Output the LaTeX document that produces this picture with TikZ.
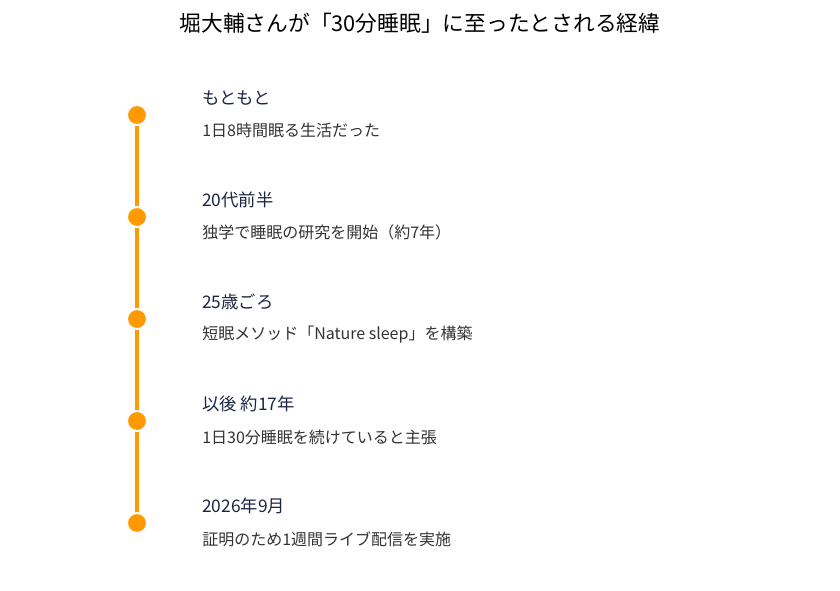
\documentclass[tikz,border=0pt]{standalone}
\usepackage{fontspec}
\setmainfont{Noto Sans CJK JP}
\usepackage{tikz}

\definecolor{dotorange}{HTML}{FF9900}
\definecolor{headnavy}{HTML}{1C2541}
\definecolor{descgray}{HTML}{333333}

\tikzset{
  stepdot/.style={circle, fill=dotorange, draw=white, line width=1.5pt, minimum size=15pt, inner sep=0pt},
  stephead/.style={anchor=west, inner sep=0pt, text=headnavy, font=\fontsize{13pt}{15pt}\selectfont},
  stepdesc/.style={anchor=west, inner sep=0pt, text=descgray, font=\fontsize{12pt}{14pt}\selectfont}
}

\begin{document}
\begin{tikzpicture}[x=0.75pt, y=-0.75pt]
    \useasboundingbox (0,0) rectangle (840,590);

    % Title
    \node[inner sep=0pt, font=\fontsize{16.3pt}{18pt}\selectfont] (title) at (420,23) {堀大輔さんが「30分睡眠」に至ったとされる経緯};

    % Timeline points
    \coordinate (p1) at (137,115);
    \coordinate (p2) at (137,217);
    \coordinate (p3) at (137,319);
    \coordinate (p4) at (137,421);
    \coordinate (p5) at (137,523);

    % Draw the line behind the dots
    \draw[dotorange, line width=3pt] (p1) -- (p2) -- (p3) -- (p4) -- (p5);

    \node[stepdot] (d1) at (p1) {};
    \node[stepdot] (d2) at (p2) {};
    \node[stepdot] (d3) at (p3) {};
    \node[stepdot] (d4) at (p4) {};
    \node[stepdot] (d5) at (p5) {};

    % Labels for each step
    \node[stephead] (h1) at (202,98) {もともと};
    \node[stepdesc] (t1) at (202,130) {1日8時間眠る生活だった};

    \node[stephead] (h2) at (202,200) {20代前半};
    \node[stepdesc] (t2) at (202,232) {独学で睡眠の研究を開始（約7年）};

    \node[stephead] (h3) at (202,302) {25歳ごろ};
    \node[stepdesc] (t3) at (202,335) {短眠メソッド「Nature sleep」を構築};

    \node[stephead] (h4) at (202,404) {以後 約17年};
    \node[stepdesc] (t4) at (202,437) {1日30分睡眠を続けていると主張};

    \node[stephead] (h5) at (202,506) {2026年9月};
    \node[stepdesc] (t5) at (202,539) {証明のため1週間ライブ配信を実施};
\end{tikzpicture}
\end{document}
